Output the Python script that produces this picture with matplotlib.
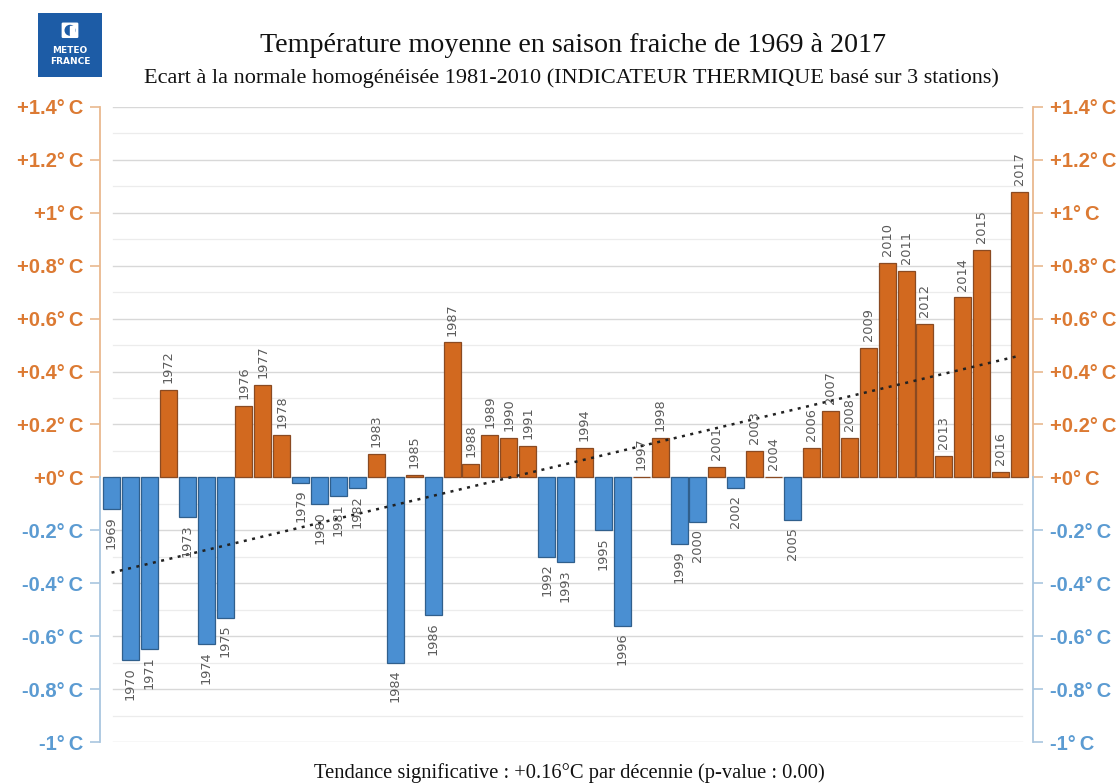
import matplotlib
matplotlib.use("Agg")
import matplotlib.pyplot as plt
import matplotlib.transforms as mtransforms
from matplotlib.patches import Rectangle, FancyBboxPatch, Circle
import numpy as np

years = list(range(1969, 2018))
anomalies = [
    -0.12, -0.69, -0.65, 0.33, -0.15, -0.63, -0.53, 0.27, 0.35, 0.16,
    -0.02, -0.10, -0.07, -0.04, 0.09, -0.70, 0.01, -0.52, 0.51, 0.05,
    0.16, 0.15, 0.12, -0.30, -0.32, 0.11, -0.20, -0.56, 0.003, 0.15,
    -0.25, -0.17, 0.04, -0.04, 0.10, 0.003, -0.16, 0.11, 0.25, 0.15,
    0.49, 0.81, 0.78, 0.58, 0.08, 0.68, 0.86, 0.02, 1.08,
]
trend_start = -0.36
trend_end = 0.46
tick_values = [-1.0, -0.8, -0.6, -0.4, -0.2, 0.0, 0.2, 0.4, 0.6, 0.8, 1.0, 1.2, 1.4]
tick_labels = ["-1°\u2009C", "-0.8°\u2009C", "-0.6°\u2009C", "-0.4°\u2009C", "-0.2°\u2009C",
               "+0°\u2009C", "+0.2°\u2009C", "+0.4°\u2009C", "+0.6°\u2009C", "+0.8°\u2009C",
               "+1°\u2009C", "+1.2°\u2009C", "+1.4°\u2009C"]
minor_values = [-0.9, -0.7, -0.5, -0.3, -0.1, 0.1, 0.3, 0.5, 0.7, 0.9, 1.1, 1.3]

title = "Température moyenne en saison fraiche de 1969 à 2017"
subtitle = "Ecart à la normale homogénéisée 1981-2010 (INDICATEUR THERMIQUE basé sur 3 stations)"
footer = "Tendance significative : +0.16°C par décennie (p-value : 0.00)"

ORANGE_BAR = "#d2691f"
ORANGE_EDGE = "#8a4a22"
BLUE_BAR = "#4a8fd2"
BLUE_EDGE = "#305f8c"
ORANGE_TXT = "#dc7a33"
BLUE_TXT = "#5b9bd2"
ORANGE_SPINE = "#e9b98f"
BLUE_SPINE = "#a9c6df"

W, H = 1119, 783
fig = plt.figure(figsize=(W / 100, H / 100), dpi=100)
ax = fig.add_axes([100 / W, 1 - 742 / H, 933 / W, 635 / H])

x = np.arange(len(years))
vals = np.array(anomalies)
colors = [ORANGE_BAR if v >= 0 else BLUE_BAR for v in vals]
edges = [ORANGE_EDGE if v >= 0 else BLUE_EDGE for v in vals]
ax.bar(x, vals, width=0.9, color=colors, edgecolor=edges, linewidth=0.9, zorder=3)

ax.set_xlim(-0.61, 48.71)
ax.set_ylim(-1.0, 1.4)

# grid lines
for v in tick_values:
    ax.axhline(v, xmin=0.014, xmax=0.988, color="#d8d8d8", lw=1.0, zorder=1)
for v in minor_values:
    ax.axhline(v, xmin=0.014, xmax=0.988, color="#ececec", lw=0.9, zorder=1)

# trend line
ax.plot([x[0], x[-1]], [trend_start, trend_end], color="#222222", lw=1.8,
        linestyle=(0, (1.2, 2.2)), zorder=5)

# year labels
for xi, v, yr in zip(x, vals, years):
    if v >= 0:
        ax.annotate(str(yr), (xi, v), xytext=(0, 5), textcoords="offset points",
                    rotation=90, ha="center", va="bottom", fontsize=9.3,
                    color="#5a5a5a", family="DejaVu Sans", zorder=6)
    else:
        ax.annotate(str(yr), (xi, v), xytext=(0, -5), textcoords="offset points",
                    rotation=90, ha="center", va="top", fontsize=9.3,
                    color="#5a5a5a", family="DejaVu Sans", zorder=6)

# spines
for s in ["top", "bottom", "left", "right"]:
    ax.spines[s].set_visible(False)
ax.set_xticks([])

trans_l = mtransforms.blended_transform_factory(ax.transAxes, ax.transData)
ax.plot([0, 0], [0, 1.4], color=ORANGE_SPINE, lw=1.3, transform=trans_l, clip_on=False)
ax.plot([0, 0], [-1.0, 0], color=BLUE_SPINE, lw=1.3, transform=trans_l, clip_on=False)
ax.plot([1, 1], [0, 1.4], color=ORANGE_SPINE, lw=1.3, transform=trans_l, clip_on=False)
ax.plot([1, 1], [-1.0, 0], color=BLUE_SPINE, lw=1.3, transform=trans_l, clip_on=False)

ax.set_yticks(tick_values)
ax.set_yticklabels(tick_labels)
ax.tick_params(axis="y", which="both", left=True, right=True, labelleft=True,
               labelright=True, length=7, width=1.2, pad=5)
for tick, v in zip(ax.yaxis.get_major_ticks(), tick_values):
    c_line = ORANGE_SPINE if v >= 0 else BLUE_SPINE
    c_txt = ORANGE_TXT if v >= 0 else BLUE_TXT
    for tl in (tick.tick1line, tick.tick2line):
        tl.set_markeredgecolor(c_line)
        tl.set_color(c_line)
    for lab in (tick.label1, tick.label2):
        lab.set_color(c_txt)
        lab.set_fontweight("bold")
        lab.set_fontsize(14.5)
        lab.set_family(["Liberation Sans", "DejaVu Sans"])

# titles
fig.text(573 / W, 1 - 46 / H, title, ha="center", va="center",
         family="Liberation Serif", fontsize=20.2, color="#111111")
fig.text(571 / W, 1 - 78 / H, subtitle, ha="center", va="center",
         family="Liberation Serif", fontsize=16, color="#111111")
fig.text(569 / W, 1 - 773 / H, footer, ha="center", va="center",
         family="Liberation Serif", fontsize=14.8, color="#111111")

# logo
logo = fig.add_axes([38 / W, 1 - 77 / H, 64 / W, 64 / H])
logo.set_xlim(0, 1)
logo.set_ylim(0, 1)
logo.axis("off")
logo.add_patch(Rectangle((0, 0), 1, 1, color="#1d5ca6"))
logo.add_patch(FancyBboxPatch((0.39, 0.63), 0.22, 0.2, boxstyle="round,pad=0.01",
                              color="white"))
logo.add_patch(Circle((0.5, 0.73), 0.075, color="#1d5ca6"))
logo.add_patch(Rectangle((0.5, 0.66), 0.06, 0.14, color="white"))
logo.text(0.5, 0.42, "METEO", ha="center", va="center", color="white",
          fontsize=6.5, fontweight="bold", family="DejaVu Sans")
logo.text(0.5, 0.24, "FRANCE", ha="center", va="center", color="white",
          fontsize=6.5, fontweight="bold", family="DejaVu Sans")

fig.savefig("out.png", dpi=100, facecolor="white")
